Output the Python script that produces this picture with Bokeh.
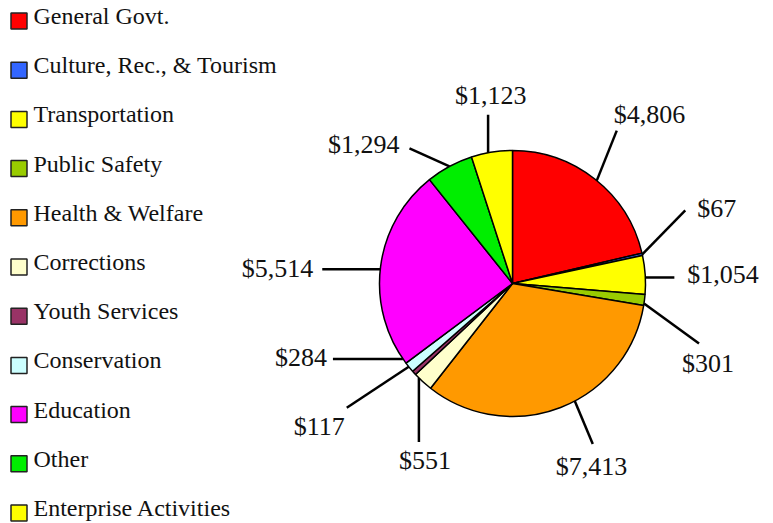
import math
from bokeh.plotting import figure
from bokeh.models import Range1d
from bokeh.core.properties import value
from bokeh.embed import file_html
from bokeh.resources import INLINE

# ---- data ----
CATEGORIES = ["General Govt.", "Culture, Rec., & Tourism", "Transportation",
              "Public Safety", "Health & Welfare", "Corrections", "Youth Services",
              "Conservation", "Education", "Other", "Enterprise Activities"]
VALUES = [4806, 67, 1054, 301, 7413, 551, 117, 284, 5514, 1294, 1123]
COLORS = ["#ff0000", "#3366ff", "#ffff00", "#99cc00", "#ff9900", "#ffffcc",
          "#993366", "#ccffff", "#ff00ff", "#00ee00", "#ffff00"]

# ---- layout (screen pixels) ----
W, H = 773, 523
CX, CY, R = 512, 283, 133
# leader: angular shift of start (deg), end offset from start, text offset from end, align
LEADER_SHIFT = [0.9, 0.0, 1.1, 1.5, -6.7, 2.3, 3.5, 4.5, -1.2, 0.0, -1.6]
LEADER_OFF = [(20, -50), (43, -44), (29, 0), (55, 40), (18, 43), (0, 64),
              (-62, 41), (-70, 0), (-58, 0), (-40, -18), (0, -38)]
TEXT_OFF = [(-3, -7, "left"), (12, 7, "left"), (13, 6, "left"), (-17, 29, "left"),
            (-37, 31, "left"), (-20, 28, "left"), (-53, 28, "left"), (-6, 8, "right"),
            (-9, 8, "right"), (-10, 5, "right"), (-33, -10, "left")]
TEXT_DY = -9  # renderer baseline correction
LEG_X, LEG_Y0, LEG_DY, LEG_BOX = 18.5, 20.5, 49.2, 16
FONT = value("Liberation Serif")


def Y(sy):
    return H - sy


p = figure(width=W, height=H, output_backend="svg", toolbar_location=None,
           x_range=Range1d(0, W), y_range=Range1d(0, H),
           x_axis_type=None, y_axis_type=None, min_border=0)
p.grid.visible = False
p.outline_line_color = None
p.background_fill_color = "white"

total = sum(VALUES)
cum = 0.0
starts, ends, mids = [], [], []
for v in VALUES:
    f0 = cum / total
    cum += v
    f1 = cum / total
    starts.append(math.pi / 2 - 2 * math.pi * f0)
    ends.append(math.pi / 2 - 2 * math.pi * f1)
    mids.append((f0 + f1) / 2)

p.wedge(x=[CX] * len(VALUES), y=[Y(CY)] * len(VALUES), radius=R,
        start_angle=starts, end_angle=ends, direction="clock",
        fill_color=COLORS, line_color="black", line_width=1.5)

x0s, y0s, x1s, y1s = [], [], [], []
groups = {}
for i, v in enumerate(VALUES):
    th = 2 * math.pi * mids[i] + math.radians(LEADER_SHIFT[i])
    sx = CX + R * math.sin(th)
    sy = CY - R * math.cos(th)
    ex = sx + LEADER_OFF[i][0]
    ey = sy + LEADER_OFF[i][1]
    x0s.append(sx); y0s.append(Y(sy)); x1s.append(ex); y1s.append(Y(ey))
    dx, dy, al = TEXT_OFF[i]
    g = groups.setdefault(al, ([], [], []))
    g[0].append(ex + dx); g[1].append(Y(ey + dy + TEXT_DY)); g[2].append(f"${v:,}")

p.segment(x0=x0s, y0=y0s, x1=x1s, y1=y1s, line_color="black", line_width=2.5)
for al, (xs, ys, ts) in groups.items():
    p.text(x=xs, y=ys, text=ts, text_align=al, text_baseline="alphabetic",
           text_font=FONT, text_font_size="26px", text_color="#111111")

# legend
ly = [LEG_Y0 + i * LEG_DY for i in range(len(CATEGORIES))]
p.rect(x=[LEG_X] * len(CATEGORIES), y=[Y(v) for v in ly], width=LEG_BOX, height=LEG_BOX,
       fill_color=COLORS, line_color="#222222", line_width=1.5)
p.text(x=[33] * len(CATEGORIES), y=[Y(v + 4 + TEXT_DY) for v in ly], text=CATEGORIES,
       text_align="left", text_baseline="alphabetic", text_font=FONT,
       text_font_size="24px", text_color="#111111")

open("out.html", "w").write(file_html(p, INLINE))
